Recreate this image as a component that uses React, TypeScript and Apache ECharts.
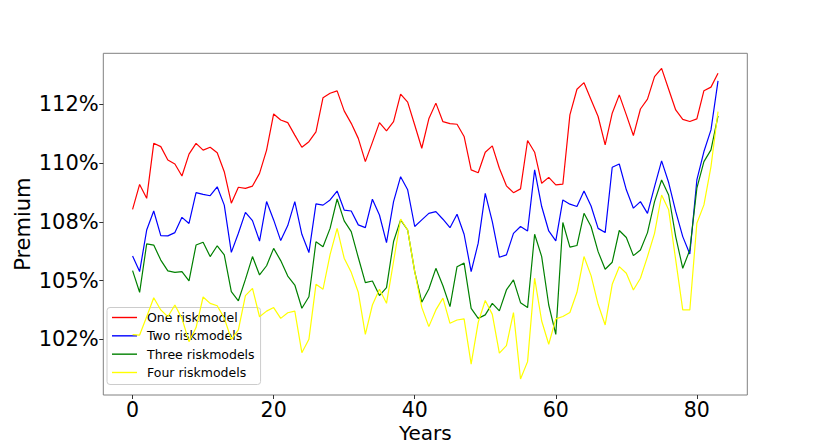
import React, { useEffect, useRef } from "react";
import * as echarts from "echarts";

const seriesNames = ["One riskmodel", "Two riskmodels", "Three riskmodels", "Four riskmodels"];
const seriesColors = ["#ff0000", "#0000ff", "#008000", "#ffff00"];

const oneRisk = [
  108.03, 109.09, 108.5, 110.84, 110.7, 110.13, 109.96, 109.45, 110.38, 110.84,
  110.55, 110.67, 110.44, 109.63, 108.29, 108.97, 108.92, 109.02, 109.56, 110.55,
  112.09, 111.83, 111.72, 111.19, 110.67, 110.91, 111.33, 112.78, 112.97, 113.07,
  112.22, 111.69, 111.05, 110.06, 110.88, 111.72, 111.37, 111.76, 112.93, 112.59,
  111.62, 110.63, 111.88, 112.55, 111.76, 111.68, 111.65, 111.13, 109.71, 109.59,
  110.46, 110.73, 109.78, 109.03, 108.74, 108.9, 110.96, 110.46, 109.14, 109.39,
  109.07, 109.1, 112.05, 113.14, 113.42, 112.69, 111.98, 110.77, 112.12, 112.9,
  112.05, 111.17, 112.3, 112.72, 113.68, 114.03, 113.14, 112.26, 111.86, 111.77,
  111.88, 113.08, 113.23, 113.82,
];

const twoRisk = [
  106.04, 105.38, 107.15, 107.96, 106.91, 106.9, 107.04, 107.69, 107.43, 108.74,
  108.67, 108.61, 108.99, 108.21, 106.2, 107.01, 107.9, 107.55, 106.68, 108.36,
  107.58, 106.7, 107.34, 108.36, 106.97, 106.19, 108.26, 108.21, 108.43, 108.81,
  108.0, 107.96, 107.37, 107.25, 108.46, 107.79, 106.61, 108.36, 109.42, 108.86,
  107.3, 107.58, 107.86, 107.93, 107.61, 107.25, 107.82, 106.97, 105.38, 106.59,
  108.71, 107.51, 105.99, 106.09, 107.01, 107.3, 107.11, 109.71, 108.15, 107.11,
  106.69, 108.43, 108.25, 108.15, 108.81, 108.17, 107.22, 107.04, 109.82, 109.96,
  108.86, 108.08, 108.36, 107.86, 109.0, 110.09, 109.17, 107.94, 106.87, 106.13,
  109.28, 110.49, 111.41, 113.5,
];

const threeRisk = [
  105.42, 104.5, 106.56, 106.51, 105.87, 105.41, 105.35, 105.38, 104.99, 106.51,
  106.63, 106.02, 106.48, 106.09, 104.53, 104.14, 105.05, 106.02, 105.24, 105.63,
  106.37, 105.85, 105.19, 104.81, 103.82, 104.31, 106.65, 106.44, 107.22, 108.47,
  107.54, 107.08, 105.98, 104.91, 104.98, 104.36, 104.7, 106.66, 107.58, 107.15,
  105.38, 104.08, 104.64, 105.52, 104.78, 103.89, 105.59, 105.74, 103.82, 103.39,
  103.54, 104.03, 103.71, 104.6, 105.03, 104.06, 103.85, 106.97, 106.02, 103.96,
  102.71, 107.47, 106.42, 106.49, 107.86, 107.3, 106.23, 105.48, 105.78, 107.13,
  106.83, 106.06, 106.3, 107.04, 108.36, 109.28, 108.64, 106.87, 105.52, 106.3,
  108.93, 110.06, 110.56, 112.01,
];

const fourRisk = [
  102.7, 102.68, 103.46, 104.27, 103.75, 103.46, 103.96, 103.39, 102.4, 103.0,
  104.3, 104.03, 103.93, 103.4, 102.5, 102.9, 104.36, 104.67, 103.46, 103.7,
  103.85, 103.39, 103.63, 103.7, 101.93, 102.5, 104.84, 104.63, 106.1, 107.22,
  105.95, 105.35, 104.5, 102.71, 103.96, 104.63, 104.03, 105.81, 107.62, 107.15,
  105.38, 103.86, 103.04, 103.75, 104.25, 103.18, 103.32, 103.37, 101.44, 103.22,
  104.15, 103.56, 101.91, 102.23, 103.64, 100.81, 101.55, 105.1, 103.28, 102.29,
  103.37, 103.47, 103.64, 104.5, 106.02, 105.21, 103.99, 103.11, 104.84, 105.59,
  105.31, 104.6, 105.1, 106.02, 107.01, 108.64, 108.01, 105.88, 103.75, 103.75,
  107.44, 108.22, 109.85, 112.19,
];

const years = oneRisk.map((_, i) => i);

const xTickValues = [0, 20, 40, 60, 80];
const yTickValues = [102.5, 105, 107.5, 110, 112.5];
const yTickLabels = ["102%", "105%", "108%", "110%", "112%"];

const FONT = "DejaVu Sans";

export default function App() {
  const ref = useRef<HTMLDivElement>(null);

  useEffect(() => {
    if (!ref.current) return;
    const chart = echarts.init(ref.current, undefined, { renderer: "svg" });
    const all = [oneRisk, twoRisk, threeRisk, fourRisk];
    chart.setOption({
      animation: false,
      backgroundColor: "#ffffff",
      textStyle: { fontFamily: FONT },
      grid: {
        left: 103.3,
        right: 83.7,
        top: 53.3,
        bottom: 49,
        show: true,
        borderColor: "#808080",
        borderWidth: 1,
        backgroundColor: "transparent",
        outerBoundsMode: "none",
      },
      legend: {
        orient: "vertical",
        left: 107,
        top: 307.5,
        icon: "rect",
        itemWidth: 25,
        itemHeight: 1.4,
        itemGap: 4.33,
        padding: [3, 6, 5, 5],
        backgroundColor: "rgba(255,255,255,0.8)",
        borderColor: "#cccccc",
        borderWidth: 1,
        borderRadius: 3,
        textStyle: {
          fontFamily: FONT,
          fontSize: 12.5,
          color: "#000",
          lineHeight: 14,
          height: 14,
          padding: [0, 0, 0, 5],
        },
        data: seriesNames,
      },
      xAxis: {
        type: "value",
        min: -4.15,
        max: 87.15,
        name: "Years",
        nameLocation: "middle",
        nameGap: 28.5,
        nameMoveOverlap: false,
        nameTextStyle: { fontFamily: FONT, fontSize: 20, color: "#000", lineHeight: 18 },
        axisLine: { show: false, onZero: false },
        axisTick: {
          show: true,
          length: 4,
          customValues: xTickValues,
          lineStyle: { color: "#333", width: 1 },
        },
        axisLabel: {
          customValues: xTickValues,
          fontFamily: FONT,
          fontSize: 20.5,
          lineHeight: 18,
          color: "#000",
          margin: 5.5,
        },
        splitLine: { show: false },
      },
      yAxis: {
        type: "value",
        min: 100.13,
        max: 114.67,
        name: "Premium",
        nameLocation: "middle",
        nameGap: 70,
        nameMoveOverlap: false,
        nameRotate: 90,
        nameTextStyle: { fontFamily: FONT, fontSize: 21, color: "#000" },
        axisLine: { show: false, onZero: false },
        axisTick: {
          show: true,
          length: 4,
          customValues: yTickValues,
          lineStyle: { color: "#333", width: 1 },
        },
        axisLabel: {
          customValues: yTickValues,
          fontFamily: FONT,
          fontSize: 21,
          color: "#000",
          margin: 4.5,
          formatter: (v: number) => {
            const k = yTickValues.findIndex((t) => Math.abs(t - v) < 1e-6);
            return k >= 0 ? yTickLabels[k] : "";
          },
        },
        splitLine: { show: false },
      },
      series: all.map((vals, s) => ({
        name: seriesNames[s],
        type: "line",
        data: years.map((x, i) => [x, vals[i]]),
        symbol: "none",
        showSymbol: false,
        lineStyle: { color: seriesColors[s], width: 1.2 },
        itemStyle: { color: seriesColors[s] },
        z: 2 + s,
      })),
    });
    return () => chart.dispose();
  }, []);

  return (
    <div
      ref={ref}
      style={{ position: "absolute", left: 0, top: 0, width: 831, height: 444 }}
    />
  );
}
